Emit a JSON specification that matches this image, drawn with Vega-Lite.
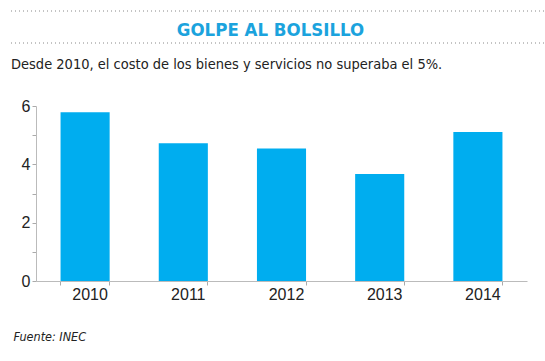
{
  "$schema": "https://vega.github.io/schema/vega-lite/v6.json",
  "padding": {"left": 10, "top": 10, "right": 0, "bottom": 0},
  "background": "white",
  "config": {
    "view": {"stroke": null},
    "font": "DejaVu Sans Condensed",
    "concat": {"spacing": 12}
  },
  "vconcat": [
    {
      "width": 535,
      "height": 32,
      "data": {"values": [{"titulo": "GOLPE AL BOLSILLO"}]},
      "layer": [
        {
          "mark": {"type": "rule", "strokeDash": [1, 3], "color": "#888", "strokeWidth": 1},
          "encoding": {
            "x": {"datum": 0, "type": "quantitative", "scale": {"domain": [0, 1], "range": [-25, 510]}, "axis": null},
            "x2": {"datum": 1},
            "y": {"datum": 0, "type": "quantitative", "scale": {"domain": [0, 1]}, "axis": null}
          }
        },
        {
          "mark": {"type": "rule", "strokeDash": [1, 3], "color": "#888", "strokeWidth": 1},
          "encoding": {
            "x": {"datum": 0, "type": "quantitative", "scale": {"domain": [0, 1], "range": [-25, 510]}, "axis": null},
            "x2": {"datum": 1},
            "y": {"datum": 1, "type": "quantitative", "scale": {"domain": [0, 1]}, "axis": null}
          }
        },
        {
          "mark": {"type": "text", "fontSize": 18.5, "fontWeight": "bold", "color": "#1BA3DD", "baseline": "alphabetic", "dy": -7, "font": "DejaVu Sans Condensed"},
          "encoding": {
            "x": {"datum": 0.485, "type": "quantitative", "scale": {"domain": [0, 1], "range": [-25, 510]}, "axis": null},
            "y": {"datum": 0, "type": "quantitative", "scale": {"domain": [0, 1]}, "axis": null},
            "text": {"field": "titulo", "type": "nominal"}
          }
        }
      ]
    },
    {
      "width": 491,
      "height": 175,
      "title": {
        "text": "Desde 2010, el costo de los bienes y servicios no superaba el 5%.",
        "anchor": "start",
        "frame": "group",
        "dx": -25,
        "fontSize": 14.5,
        "fontWeight": "normal",
        "color": "#222",
        "font": "DejaVu Sans Condensed",
        "offset": 26
      },
      "data": {
        "values": [
          {"anio": "2010", "valor": 5.79},
          {"anio": "2011", "valor": 4.72},
          {"anio": "2012", "valor": 4.54},
          {"anio": "2013", "valor": 3.67},
          {"anio": "2014", "valor": 5.11}
        ]
      },
      "mark": {"type": "bar", "color": "#00ADEF"},
      "encoding": {
        "x": {
          "field": "anio",
          "type": "nominal",
          "scale": {"paddingInner": 0.5, "paddingOuter": 0.25},
          "axis": {
            "title": "Fuente: INEC",
            "titleFontStyle": "italic",
            "titleFontWeight": "normal",
            "titleFontSize": 12.5,
            "titleColor": "#222",
            "titleFont": "DejaVu Sans Condensed",
            "titleAnchor": "start",
            "titleAlign": "left",
            "titleBaseline": "alphabetic",
            "titleX": -23,
            "titleY": 59,
            "labelAngle": 0,
            "labelFontSize": 16,
            "labelColor": "#222",
            "labelPadding": 1,
            "labelOffset": 5,
            "labelFont": "Liberation Sans",
            "bandPosition": 1,
            "tickExtra": true,
            "tickSize": 4,
            "tickColor": "#aaa",
            "domainColor": "#bbb"
          }
        },
        "y": {
          "field": "valor",
          "type": "quantitative",
          "scale": {"domain": [0, 6]},
          "axis": {
            "title": null,
            "grid": false,
            "values": [0, 1, 2, 3, 4, 5, 6],
            "labelExpr": "datum.value % 2 == 0 ? datum.label : ''",
            "labelFontSize": 16,
            "labelFont": "Liberation Sans",
            "labelColor": "#222",
            "labelPadding": 2,
            "tickSize": 4,
            "tickColor": "#aaa",
            "domainColor": "#bbb"
          }
        }
      }
    }
  ]
}
